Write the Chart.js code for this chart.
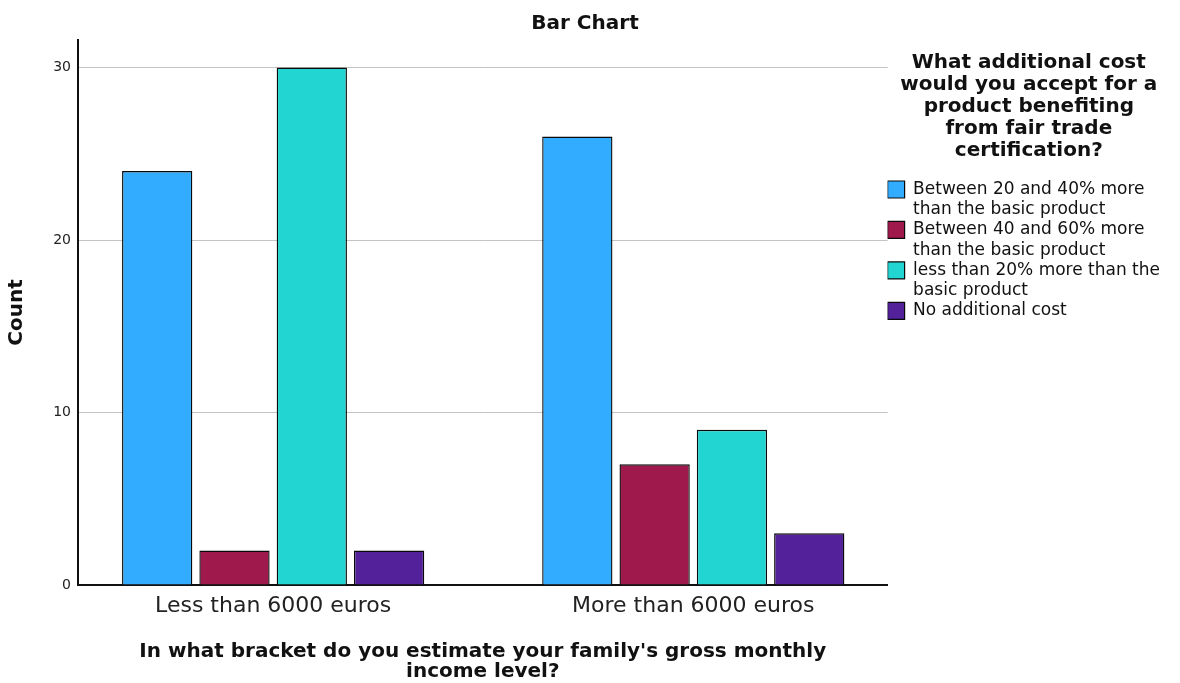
<!DOCTYPE html>
<html>
<head>
<meta charset="utf-8">
<script src="https://cdn.jsdelivr.net/npm/chart.js@4/dist/chart.umd.min.js"></script>
<style>
  html, body { margin: 0; padding: 0; background: #fff; }
  #wrap { width: 1180px; height: 683px; position: relative; }
</style>
</head>
<body>
<div id="wrap"><canvas id="c" width="1180" height="683"></canvas></div>
<script>
// ---- data ----
const categories = ["Less than 6000 euros", "More than 6000 euros"];
const seriesLines = [
  ["Between 20 and 40% more", "than the basic product"],
  ["Between 40 and 60% more", "than the basic product"],
  ["less than 20% more than the", "basic product"],
  ["No additional cost"]
];
const seriesColors = ["#32ACFE", "#A0194D", "#22D5D2", "#53229A"];
const valuesBetween20and40 = [24, 26];
const valuesBetween40and60 = [2, 7];
const valuesLessThan20 = [30, 9];
const valuesNoAdditional = [2, 3];
const yTicks = [0, 10, 20, 30];
const chartTitle = "Bar Chart";
const yTitle = "Count";
const xTitleLines = ["In what bracket do you estimate your family's gross monthly", "income level?"];
const legendTitleLines = ["What additional cost", "would you accept for a", "product benefiting", "from fair trade", "certification?"];

const seriesValues = [valuesBetween20and40, valuesBetween40and60, valuesLessThan20, valuesNoAdditional];

const datasets = seriesValues.map((vals, s) => ({
  label: seriesLines[s].join(' '),
  data: vals.map((v, i) => ({x: i, y: v})),
  backgroundColor: seriesColors[s],
  borderColor: '#0a0a0a',
  borderWidth: 1.4,
  borderSkipped: 'start',
  categoryPercentage: 0.736,
  barPercentage: 0.909
}));

const FONT = "'DejaVu Sans', 'Liberation Sans', sans-serif";

new Chart(document.getElementById('c'), {
  type: 'bar',
  data: { datasets },
  options: {
    responsive: false,
    animation: false,
    devicePixelRatio: 1,
    layout: { padding: { left: 0, right: 10, top: 0, bottom: 0 } },
    plugins: {
      title: {
        display: true,
        text: chartTitle,
        color: '#111',
        font: { family: FONT, size: 20, weight: 'bold', lineHeight: 1.2 },
        padding: { top: 12, bottom: 4 }
      },
      legend: {
        display: true,
        position: 'right',
        align: 'start',
        title: {
          display: true,
          text: legendTitleLines,
          color: '#111',
          position: 'center',
          font: { family: FONT, size: 20, weight: 'bold', lineHeight: 1.1 },
          padding: { top: 53, bottom: 106 }
        },
        labels: {
          color: '#111',
          font: { family: FONT, size: 17, lineHeight: 1.19 },
          boxWidth: 17,
          boxHeight: 17,
          padding: 0,
          generateLabels: (chart) => {
            const items = Chart.defaults.plugins.legend.labels.generateLabels(chart);
            items.forEach(it => { it.text = seriesLines[it.datasetIndex]; it.lineWidth = 1.2; it.strokeStyle = '#0a0a0a'; });
            return items;
          }
        }
      },
      tooltip: { enabled: false }
    },
    scales: {
      x: {
        type: 'linear',
        min: -0.4645,
        max: 1.4625,
        offset: false,
        afterBuildTicks: (axis) => { axis.ticks = categories.map((c, i) => ({ value: i })); },
        afterFit: (axis) => { axis.height = 98; },
        grid: { display: false, drawTicks: false },
        border: { display: true, color: '#111', width: 2 },
        ticks: {
          color: '#222',
          font: { family: FONT, size: 22 },
          padding: 8,
          maxRotation: 0,
          autoSkip: false,
          callback: (v) => (categories[v] !== undefined ? categories[v] : '')
        },
        title: {
          display: true,
          text: xTitleLines,
          color: '#111',
          font: { family: FONT, size: 20, weight: 'bold', lineHeight: 1.0 },
          padding: { top: 4, bottom: 1 }
        }
      },
      y: {
        type: 'linear',
        min: 0,
        max: 31.6,
        afterFit: (axis) => { axis.width = 78; },
        afterBuildTicks: (axis) => { axis.ticks = yTicks.map(v => ({ value: v })); },
        grid: { color: '#c4c4c4', lineWidth: 1, drawTicks: false },
        border: { display: true, color: '#111', width: 2 },
        ticks: {
          color: '#222',
          font: { family: FONT, size: 14 },
          padding: 7,
          includeBounds: false
        },
        title: {
          display: true,
          text: yTitle,
          color: '#111',
          font: { family: FONT, size: 20, weight: 'bold', lineHeight: 1.2 },
          padding: { top: 5, bottom: 0 }
        }
      }
    }
  }
});
</script>
</body>
</html>
